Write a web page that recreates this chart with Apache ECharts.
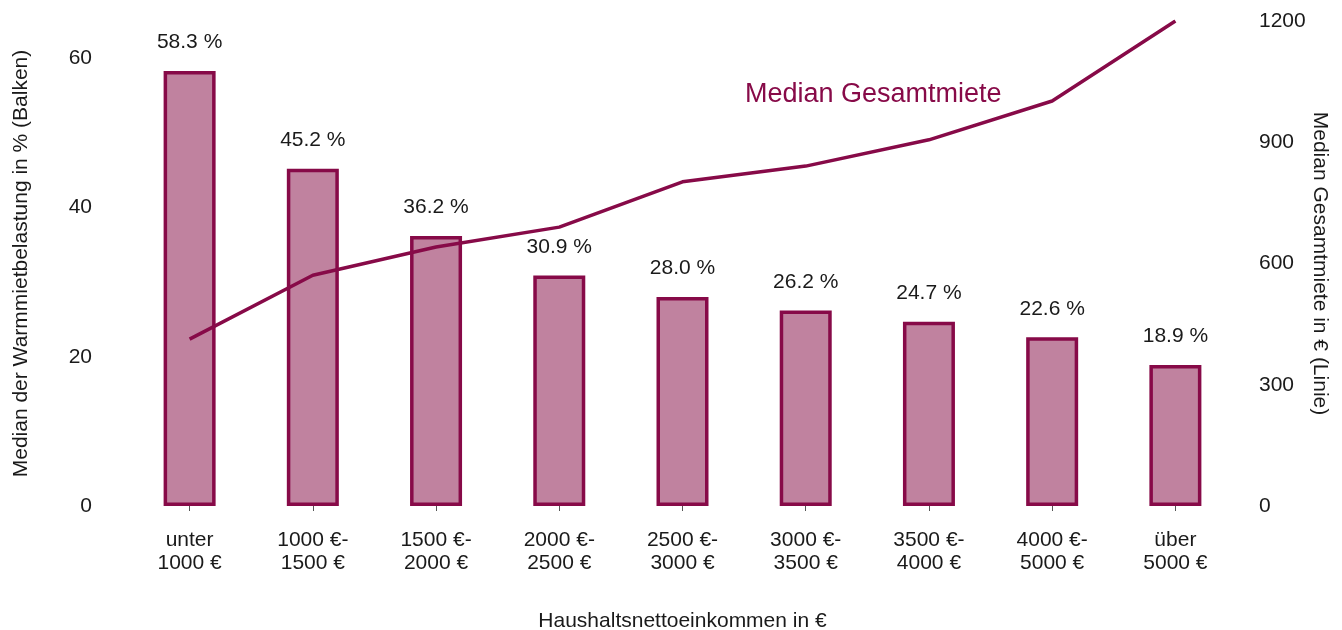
<!DOCTYPE html>
<html>
<head>
<meta charset="utf-8">
<script src="https://cdn.jsdelivr.net/npm/echarts@6/dist/echarts.min.js"></script>
<style>
  html, body { margin: 0; padding: 0; background: #fff; }
  #chart { width: 1342px; height: 630px; }
</style>
</head>
<body>
<div id="chart"></div>
<script>
var kategorien = ['unter\n1000 €', '1000 €-\n1500 €', '1500 €-\n2000 €', '2000 €-\n2500 €', '2500 €-\n3000 €',
    '3000 €-\n3500 €', '3500 €-\n4000 €', '4000 €-\n5000 €', 'über\n5000 €'];
var belastung = [58.3, 45.2, 36.2, 30.9, 28.0, 26.2, 24.7, 22.6, 18.9];
var gesamtmiete = [413, 571, 641, 690, 802, 841, 906, 1002, 1200];
var linksTicks = [0, 20, 40, 60];
var rechtsTicks = [0, 300, 600, 900, 1200];

var rot = '#870a48';
var schrift = 'Liberation Sans, Arial, sans-serif';

var myChart = echarts.init(document.getElementById('chart'));

var option = {
    animation: false,
    textStyle: { fontFamily: schrift },
    grid: { left: 128, right: 105, top: 21, bottom: 124, outerBoundsMode: 'none', containLabel: false },
    xAxis: {
        type: 'category',
        data: kategorien,
        name: 'Haushaltsnettoeinkommen in €',
        nameLocation: 'middle',
        nameGap: 105,
        nameMoveOverlap: false,
        nameTextStyle: { color: '#1a1a1a', fontSize: 21, fontFamily: schrift },
        axisLine: { show: false },
        axisTick: { show: true, alignWithLabel: true, length: 5, lineStyle: { color: '#555' } },
        axisLabel: { color: '#1a1a1a', fontSize: 21, lineHeight: 23, margin: 23, fontFamily: schrift }
    },
    yAxis: [{
        type: 'value',
        min: 0,
        max: 65,
        interval: 20,
        name: 'Median der Warmmietbelastung in % (Balken)',
        nameLocation: 'middle',
        nameGap: 96,
        nameMoveOverlap: false,
        nameTextStyle: { color: '#1a1a1a', fontSize: 21, fontFamily: schrift },
        splitLine: { show: false },
        axisLine: { show: false },
        axisTick: { show: false },
        axisLabel: {
            color: '#1a1a1a', fontSize: 21, margin: 36, fontFamily: schrift,
            formatter: function (v) { return linksTicks.indexOf(v) >= 0 ? v : ''; }
        }
    }, {
        type: 'value',
        min: 0,
        max: 1200,
        interval: 300,
        name: 'Median Gesamtmiete in € (Linie)',
        nameLocation: 'middle',
        nameGap: 72,
        nameRotate: -90,
        nameMoveOverlap: false,
        nameTextStyle: { color: '#1a1a1a', fontSize: 21, fontFamily: schrift },
        splitLine: { show: false },
        axisLine: { show: false },
        axisTick: { show: false },
        axisLabel: {
            color: '#1a1a1a', fontSize: 21, margin: 22, fontFamily: schrift,
            formatter: function (v) { return rechtsTicks.indexOf(v) >= 0 ? v : ''; }
        }
    }],
    series: [{
        name: 'Warmmietbelastung',
        type: 'bar',
        yAxisIndex: 0,
        data: belastung,
        barWidth: 52,
        itemStyle: { color: '#c0829f', borderColor: rot, borderWidth: 3.5 },
        label: {
            show: true,
            position: 'top',
            distance: 18,
            color: '#1a1a1a',
            fontSize: 21,
            fontFamily: schrift,
            formatter: function (p) { return p.value.toFixed(1) + ' %'; }
        }
    }, {
        name: 'Median Gesamtmiete',
        type: 'line',
        yAxisIndex: 1,
        data: gesamtmiete,
        symbol: 'none',
        lineStyle: { color: rot, width: 3.5 },
        z: 5
    }],
    graphic: [{
        type: 'text',
        left: 745,
        top: 81,
        style: {
            text: 'Median Gesamtmiete',
            fill: rot,
            fontSize: 27,
            fontFamily: schrift
        }
    }]
};

myChart.setOption(option);
</script>
</body>
</html>
